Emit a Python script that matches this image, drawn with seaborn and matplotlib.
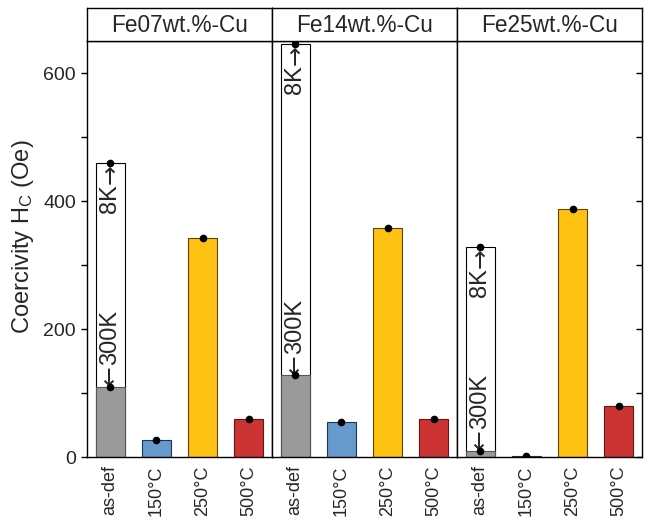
import numpy as np
import pandas as pd
import matplotlib
matplotlib.use("Agg")
import matplotlib.pyplot as plt
import seaborn as sns

sns.set_theme(style="white")
plt.rcParams['font.family'] = ['Liberation Sans', 'DejaVu Sans']
plt.rcParams['mathtext.fontset'] = 'custom'
plt.rcParams['mathtext.rm'] = 'Liberation Sans'
plt.rcParams['mathtext.it'] = 'Liberation Sans:italic'

# ---- data ----
panels = ["Fe07wt.%-Cu", "Fe14wt.%-Cu", "Fe25wt.%-Cu"]
categories = ["as-def", "150°C", "250°C", "500°C"]
fe07_300k = [110, 27, 342, 59]
fe14_300k = [128, 55, 358, 60]
fe25_300k = [10, 1, 387, 79]
asdef_8k = [460, 645, 328]
bar_colors = ["#9a9a9a", "#6699cc", "#fdc112", "#cc3333"]
edge_colors = ["#555555", "#1d3557", "#5c4600", "#6b1414"]

series = [fe07_300k, fe14_300k, fe25_300k]

W, H = 647, 518
fig = plt.figure(figsize=(W / 100, H / 100), dpi=100)

left, right = 87, 642
top_hdr, bot_hdr = 8, 41
bottom = 457
pw = (right - left) / 3

FS_ANN = 17
ARROW_LEN = 0.84 * FS_ANN  # points

for i, (name, vals) in enumerate(zip(panels, series)):
    x0 = left + i * pw
    ax = fig.add_axes([x0 / W, (H - bottom) / H, pw / W, (bottom - bot_hdr) / H])
    hx = fig.add_axes([x0 / W, (H - bot_hdr) / H, pw / W, (bot_hdr - top_hdr) / H])
    hx.set_xticks([]); hx.set_yticks([])
    for s in hx.spines.values():
        s.set_color("black"); s.set_linewidth(1.0)
    hx.text(0.5, 0.47, name, ha="center", va="center", fontsize=16.3, transform=hx.transAxes)

    # 8K white bar behind as-def
    df8 = pd.DataFrame({"cat": [categories[0]], "val": [asdef_8k[i]]})
    sns.barplot(data=df8, x="cat", y="val", order=categories, color="white",
                edgecolor="black", linewidth=0.8, width=0.63, errorbar=None,
                saturation=1, ax=ax)
    df = pd.DataFrame({"cat": categories, "val": vals})
    sns.barplot(data=df, x="cat", y="val", order=categories, hue="cat",
                hue_order=categories, palette=bar_colors, width=0.63,
                errorbar=None, saturation=1, legend=False, ax=ax)
    for p, ec in zip(ax.patches[1:], edge_colors):
        p.set_edgecolor(ec); p.set_linewidth(0.8)

    ax.plot(range(len(categories)), vals, "o", color="black", ms=4.5, zorder=5)
    ax.plot([0], [asdef_8k[i]], "o", color="black", ms=4.5, zorder=5)

    # "←300K" label going up from the 300 K dot
    ax.annotate("←", (0, vals[0]), xytext=(0, 1), textcoords="offset points",
                rotation=90, ha="center", va="bottom", fontsize=FS_ANN,
                family="DejaVu Sans")
    ax.annotate("300K", (0, vals[0]), xytext=(0, 1 + ARROW_LEN), textcoords="offset points",
                rotation=90, ha="center", va="bottom", fontsize=FS_ANN)
    # "8K→" label ending at the 8 K dot
    ax.annotate("→", (0, asdef_8k[i]), xytext=(0, -1), textcoords="offset points",
                rotation=90, ha="center", va="top", fontsize=FS_ANN,
                family="DejaVu Sans")
    ax.annotate("8K", (0, asdef_8k[i]), xytext=(0, -1 - ARROW_LEN), textcoords="offset points",
                rotation=90, ha="center", va="top", fontsize=FS_ANN)

    ax.set_xlim(-0.5, 3.5)
    ax.set_ylim(0, 650)
    ax.set_xlabel(""); ax.set_ylabel("")
    ax.set_xticks(range(len(categories)))
    ax.set_xticklabels(categories, rotation=90, fontsize=13)
    ax.tick_params(axis="x", length=0, pad=6)
    for s in ax.spines.values():
        s.set_color("black"); s.set_linewidth(1.0)
    if i == 0:
        ax.set_yticks([0, 200, 400, 600])
        ax.set_yticks([100, 300, 500], minor=True)
        ax.tick_params(axis="y", which="both", direction="out", length=4, width=1,
                       labelsize=14, left=True, color="black", pad=4)
        ax.set_ylabel("Coercivity H$_\\mathregular{C}$ (Oe)", fontsize=17)
        ax.yaxis.set_label_coords(-0.276, 0.530)
    elif i == 2:
        ax.yaxis.tick_right()
        ax.set_yticks([0, 200, 400, 600])
        ax.set_yticks([100, 300, 500], minor=True)
        ax.tick_params(axis="y", which="both", direction="in", length=4, width=1,
                       labelright=False, right=True, left=False, color="black")
    else:
        ax.set_yticks([])

fig.savefig("out.png", dpi=100)
